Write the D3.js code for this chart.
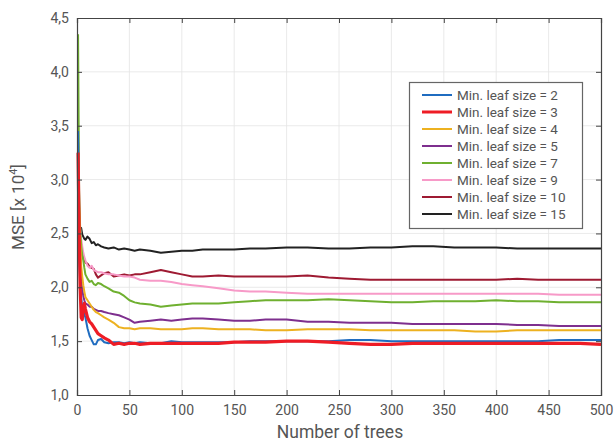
<!DOCTYPE html>
<html>
<head>
<meta charset="utf-8">
<script src="https://cdn.jsdelivr.net/npm/d3@7"></script>
<style>
  html, body { margin: 0; padding: 0; background: #fff; }
  svg text { font-family: Roboto, "Open Sans", sans-serif; fill: #555; }
</style>
</head>
<body>
<svg id="chart" width="615" height="443"></svg>
<script>
const trees = [1, 2, 3, 4, 5, 6, 7, 8, 10, 12, 14, 16, 18, 20, 23, 26, 30, 35, 40, 45, 50, 55, 60, 70, 80, 90,
  100, 110, 120, 135, 150, 165, 180, 200, 220, 240, 260, 280, 300, 320, 340, 360, 380, 400, 420, 440, 460, 480, 500];

// MSE [x 10^4] for each min. leaf size
const leaf2 = [3.45, 2.30, 2.05, 1.90, 1.82, 1.78, 1.75, 1.72, 1.62, 1.55, 1.51, 1.47, 1.47, 1.51, 1.52, 1.49, 1.48, 1.49, 1.49, 1.48, 1.49, 1.48, 1.49, 1.48, 1.48, 1.50,
  1.49, 1.49, 1.49, 1.49, 1.49, 1.50, 1.50, 1.50, 1.50, 1.50, 1.51, 1.51, 1.50, 1.50, 1.50, 1.50, 1.50, 1.50, 1.50, 1.50, 1.51, 1.51, 1.51];
const leaf3 = [3.25, 2.55, 2.00, 1.72, 1.70, 1.80, 1.85, 1.80, 1.72, 1.68, 1.66, 1.63, 1.60, 1.57, 1.55, 1.53, 1.51, 1.47, 1.48, 1.47, 1.48, 1.48, 1.47, 1.48, 1.48, 1.48,
  1.48, 1.48, 1.48, 1.48, 1.49, 1.49, 1.49, 1.50, 1.50, 1.49, 1.48, 1.47, 1.47, 1.48, 1.48, 1.48, 1.48, 1.48, 1.48, 1.48, 1.48, 1.48, 1.47];
const leaf4 = [3.00, 2.75, 2.45, 2.20, 2.10, 2.02, 1.96, 1.91, 1.88, 1.85, 1.82, 1.79, 1.77, 1.76, 1.74, 1.72, 1.70, 1.67, 1.63, 1.62, 1.62, 1.61, 1.62, 1.62, 1.61, 1.61,
  1.61, 1.62, 1.62, 1.61, 1.61, 1.61, 1.60, 1.60, 1.61, 1.61, 1.61, 1.60, 1.60, 1.60, 1.60, 1.60, 1.59, 1.59, 1.60, 1.60, 1.60, 1.60, 1.60];
const leaf5 = [3.35, 2.35, 2.15, 2.05, 1.98, 1.92, 1.88, 1.85, 1.84, 1.82, 1.82, 1.80, 1.79, 1.78, 1.78, 1.77, 1.76, 1.75, 1.74, 1.72, 1.70, 1.67, 1.68, 1.69, 1.70, 1.69,
  1.70, 1.71, 1.71, 1.70, 1.69, 1.69, 1.70, 1.70, 1.68, 1.68, 1.67, 1.67, 1.67, 1.66, 1.66, 1.66, 1.66, 1.66, 1.65, 1.65, 1.64, 1.64, 1.64];
const leaf7 = [4.35, 2.90, 2.55, 2.38, 2.30, 2.25, 2.18, 2.12, 2.08, 2.05, 2.06, 2.03, 2.02, 2.04, 2.03, 2.01, 1.99, 1.96, 1.95, 1.92, 1.88, 1.86, 1.85, 1.84, 1.82, 1.83,
  1.84, 1.85, 1.85, 1.85, 1.86, 1.87, 1.88, 1.88, 1.88, 1.89, 1.88, 1.87, 1.86, 1.86, 1.87, 1.87, 1.87, 1.88, 1.87, 1.87, 1.86, 1.86, 1.86];
const leaf9 = [3.25, 2.70, 2.55, 2.45, 2.38, 2.32, 2.28, 2.25, 2.20, 2.18, 2.20, 2.16, 2.15, 2.14, 2.14, 2.13, 2.12, 2.12, 2.11, 2.10, 2.10, 2.09, 2.07, 2.06, 2.06, 2.05,
  2.03, 2.02, 2.01, 1.99, 1.97, 1.96, 1.96, 1.95, 1.94, 1.94, 1.94, 1.94, 1.94, 1.94, 1.94, 1.94, 1.94, 1.94, 1.94, 1.94, 1.93, 1.93, 1.93];
const leaf10 = [3.15, 2.55, 2.40, 2.32, 2.30, 2.28, 2.26, 2.23, 2.22, 2.19, 2.18, 2.17, 2.12, 2.09, 2.11, 2.13, 2.14, 2.10, 2.11, 2.12, 2.11, 2.12, 2.12, 2.14, 2.16, 2.14,
  2.12, 2.10, 2.10, 2.11, 2.10, 2.10, 2.10, 2.10, 2.11, 2.09, 2.08, 2.07, 2.07, 2.07, 2.07, 2.07, 2.07, 2.07, 2.08, 2.07, 2.07, 2.07, 2.07];
const leaf15 = [3.10, 2.60, 2.52, 2.55, 2.49, 2.47, 2.45, 2.44, 2.47, 2.45, 2.41, 2.42, 2.39, 2.40, 2.38, 2.37, 2.36, 2.37, 2.35, 2.36, 2.35, 2.34, 2.35, 2.34, 2.32, 2.33,
  2.34, 2.34, 2.35, 2.35, 2.35, 2.36, 2.36, 2.37, 2.37, 2.36, 2.36, 2.37, 2.37, 2.38, 2.38, 2.37, 2.37, 2.37, 2.36, 2.36, 2.36, 2.36, 2.36];

const legendLabels = ['Min. leaf size = 2', 'Min. leaf size = 3', 'Min. leaf size = 4', 'Min. leaf size = 5',
  'Min. leaf size = 7', 'Min. leaf size = 9', 'Min. leaf size = 10', 'Min. leaf size = 15'];
const seriesValues = [leaf2, leaf3, leaf4, leaf5, leaf7, leaf9, leaf10, leaf15];
const colors = ['#1f6cc0', '#ee1c25', '#edb120', '#7e2f8e', '#6fb030', '#f79ac8', '#9e1a32', '#222222'];

const xTicks = [0, 50, 100, 150, 200, 250, 300, 350, 400, 450, 500];
const yTicks = [1.0, 1.5, 2.0, 2.5, 3.0, 3.5, 4.0, 4.5];

const svg = d3.select('#chart');
const plotL = 77, plotR = 601, plotT = 18, plotB = 395;

const x = d3.scaleLinear().domain([0, 500]).range([plotL, plotR]);
const y = d3.scaleLinear().domain([1, 4.5]).range([plotB, plotT]);
const fmt = d => d3.format('.1f')(d).replace('.', ',');

// grid
svg.append('g').selectAll('line').data(xTicks.slice(1, -1)).join('line')
    .attr('x1', d => x(d)).attr('x2', d => x(d)).attr('y1', plotT).attr('y2', plotB)
    .attr('stroke', '#e4e4e4').attr('stroke-width', 0.8);
svg.append('g').selectAll('line').data(yTicks.slice(1, -1)).join('line')
    .attr('y1', d => y(d)).attr('y2', d => y(d)).attr('x1', plotL).attr('x2', plotR)
    .attr('stroke', '#e4e4e4').attr('stroke-width', 0.8);

// lines (draw black first so colours sit on top like the original)
const line = d3.line().x((d, i) => x(trees[i])).y(d => y(d));
const order = [7, 6, 5, 4, 3, 2, 0, 1];
svg.append('g').selectAll('path').data(order).join('path')
    .attr('d', i => line(seriesValues[i]))
    .attr('fill', 'none')
    .attr('stroke', i => colors[i])
    .attr('stroke-width', i => i === 1 ? 3.2 : 2)
    .attr('stroke-linejoin', 'round');

// axes, MATLAB style box with inner ticks
const axisColor = '#444';
const xAxis = svg.append('g').attr('transform', `translate(0,${plotB})`)
    .call(d3.axisBottom(x).tickValues(xTicks).tickSize(-5).tickPadding(10).tickFormat(d3.format('d')));
const yAxis = svg.append('g').attr('transform', `translate(${plotL},0)`)
    .call(d3.axisLeft(y).tickValues(yTicks).tickSize(-5).tickPadding(8).tickFormat(fmt));
const xTop = svg.append('g').attr('transform', `translate(0,${plotT})`)
    .call(d3.axisTop(x).tickValues(xTicks).tickSize(-5).tickFormat(''));
const yRight = svg.append('g').attr('transform', `translate(${plotR},0)`)
    .call(d3.axisRight(y).tickValues(yTicks).tickSize(-5).tickFormat(''));

[xAxis, yAxis, xTop, yRight].forEach(g => {
    g.select('.domain').attr('stroke', axisColor).attr('stroke-width', 1.2);
    g.selectAll('.tick line').attr('stroke', axisColor);
    g.selectAll('.tick text').style('font-size', '14px').attr('fill', '#555');
});

// axis titles
svg.append('text')
    .attr('x', 340).attr('y', 438)
    .attr('text-anchor', 'middle')
    .style('font-size', '17.5px')
    .text('Number of trees');

const yTitle = svg.append('text')
    .attr('transform', `translate(24,207) rotate(-90)`)
    .attr('text-anchor', 'middle')
    .style('font-size', '17px');
yTitle.append('tspan').text('MSE [x 10');
yTitle.append('tspan').attr('dy', -7).style('font-size', '11px').text('4');
yTitle.append('tspan').attr('dy', 7).text(']');

// legend
const lg = svg.append('g');
lg.append('rect')
    .attr('x', 409.5).attr('y', 82.5).attr('width', 173).attr('height', 146)
    .attr('fill', '#fff').attr('stroke', '#666').attr('stroke-width', 1.2);
const rows = lg.selectAll('g.row').data(legendLabels).join('g')
    .attr('class', 'row')
    .attr('transform', (d, i) => `translate(0,${95 + i * 17})`);
rows.append('line')
    .attr('x1', 422).attr('x2', 452)
    .attr('stroke', (d, i) => colors[i])
    .attr('stroke-width', (d, i) => i === 1 ? 3 : 2);
rows.append('text')
    .attr('x', 457).attr('dy', '0.35em')
    .style('font-size', '13.5px')
    .attr('fill', '#444')
    .text(d => d);
</script>
</body>
</html>
